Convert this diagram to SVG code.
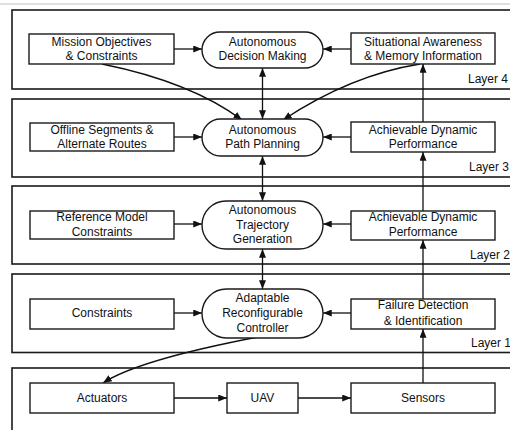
<svg xmlns="http://www.w3.org/2000/svg" width="510" height="430" viewBox="0 0 510 430">
  <style>
    .frame { fill: none; stroke: #1a1a1a; stroke-width: 1.6; }
    .box { fill: #fff; stroke: #1a1a1a; stroke-width: 1.4; }
    .pill { fill: #fff; stroke: #1a1a1a; stroke-width: 1.4; }
    .lbl { font-family: "Liberation Sans", Arial, sans-serif; font-size: 12px; fill: #111; text-anchor: middle; }
    .layer { font-family: "Liberation Sans", Arial, sans-serif; font-size: 12px; fill: #111; }
    .wire { fill: none; stroke: #111; stroke-width: 1.3; }
  </style>
  <defs>
    <marker id="arr" viewBox="0 0 10 8" refX="10" refY="4" markerWidth="9" markerHeight="7" markerUnits="userSpaceOnUse" orient="auto-start-reverse">
      <path d="M0,0 L10,4 L0,8 z" fill="#111"/>
    </marker>
  </defs>

  <rect width="510" height="430" fill="#fff"/>
  <line x1="0" y1="4" x2="510" y2="4" stroke="#bdbdbd" stroke-width="1"/>

  <!-- layer frames (open to the right edge) -->
  <g id="frames">
    <rect class="frame" x="12" y="10" width="520" height="79"/>
    <rect class="frame" x="12" y="99" width="520" height="78"/>
    <rect class="frame" x="12" y="186" width="520" height="78"/>
    <rect class="frame" x="12" y="274" width="520" height="78.5"/>
    <rect class="frame" x="12" y="368" width="520" height="80"/>
    <text class="layer" x="468" y="83">Layer 4</text>
    <text class="layer" x="469" y="171">Layer 3</text>
    <text class="layer" x="470" y="259">Layer 2</text>
    <text class="layer" x="471" y="347">Layer 1</text>
  </g>

  <!-- connectors -->
  <g id="connectors">
    <!-- layer 4 -->
    <line class="wire" x1="174" y1="49" x2="202" y2="49" marker-end="url(#arr)"/>
    <line class="wire" x1="351" y1="49" x2="323" y2="49" marker-end="url(#arr)"/>
    <line class="wire" x1="262.5" y1="68" x2="262.5" y2="119" marker-start="url(#arr)" marker-end="url(#arr)"/>
    <path class="wire" d="M102,64 Q191,82 242,120" marker-end="url(#arr)"/>
    <path class="wire" d="M420,64 Q351,75 283,120" marker-end="url(#arr)"/>
    <line class="wire" x1="423" y1="122" x2="423" y2="64" marker-end="url(#arr)"/>
    <!-- layer 3 -->
    <line class="wire" x1="174" y1="137" x2="202" y2="137" marker-end="url(#arr)"/>
    <line class="wire" x1="351" y1="137" x2="323" y2="137" marker-end="url(#arr)"/>
    <line class="wire" x1="262.5" y1="156" x2="262.5" y2="201" marker-start="url(#arr)" marker-end="url(#arr)"/>
    <line class="wire" x1="423" y1="211" x2="423" y2="152" marker-end="url(#arr)"/>
    <!-- layer 2 -->
    <line class="wire" x1="174" y1="224" x2="202" y2="224" marker-end="url(#arr)"/>
    <line class="wire" x1="351" y1="224" x2="323" y2="224" marker-end="url(#arr)"/>
    <line class="wire" x1="262.5" y1="249" x2="262.5" y2="289" marker-start="url(#arr)" marker-end="url(#arr)"/>
    <line class="wire" x1="423" y1="299" x2="423" y2="240" marker-end="url(#arr)"/>
    <!-- layer 1 -->
    <line class="wire" x1="174" y1="313" x2="202" y2="313" marker-end="url(#arr)"/>
    <line class="wire" x1="351" y1="313" x2="323" y2="313" marker-end="url(#arr)"/>
    <path class="wire" d="M258,337 Q138,360 103,383" marker-end="url(#arr)"/>
    <!-- plant loop -->
    <line class="wire" x1="174" y1="398" x2="227" y2="398" marker-end="url(#arr)"/>
    <line class="wire" x1="298" y1="398" x2="351" y2="398" marker-end="url(#arr)"/>
    <line class="wire" x1="423" y1="383" x2="423" y2="329" marker-end="url(#arr)"/>
  </g>

  <!-- Layer 4 -->
  <g id="mission">
    <rect class="box" x="29" y="34" width="145" height="30"/>
    <text class="lbl" x="101.5" y="46">Mission Objectives</text>
    <text class="lbl" x="101.5" y="60">&amp; Constraints</text>
  </g>
  <g id="decision">
    <rect class="pill" x="202" y="32" width="121" height="36" rx="18"/>
    <text class="lbl" x="262.5" y="46">Autonomous</text>
    <text class="lbl" x="262.5" y="60">Decision Making</text>
  </g>
  <g id="awareness">
    <rect class="box" x="351" y="33" width="144" height="31"/>
    <text class="lbl" x="423" y="46">Situational Awareness</text>
    <text class="lbl" x="423" y="60">&amp; Memory Information</text>
  </g>

  <!-- Layer 3 -->
  <g id="offline">
    <rect class="box" x="30" y="123" width="144" height="28"/>
    <text class="lbl" x="102" y="134">Offline Segments &amp;</text>
    <text class="lbl" x="102" y="148">Alternate Routes</text>
  </g>
  <g id="pathplanning">
    <rect class="pill" x="202" y="119" width="121" height="37" rx="18.5"/>
    <text class="lbl" x="262.5" y="134">Autonomous</text>
    <text class="lbl" x="262.5" y="148">Path Planning</text>
  </g>
  <g id="perf3">
    <rect class="box" x="351" y="122" width="144" height="30"/>
    <text class="lbl" x="423" y="134">Achievable Dynamic</text>
    <text class="lbl" x="423" y="148">Performance</text>
  </g>

  <!-- Layer 2 -->
  <g id="refmodel">
    <rect class="box" x="30" y="211" width="144" height="28"/>
    <text class="lbl" x="102" y="221">Reference Model</text>
    <text class="lbl" x="102" y="236">Constraints</text>
  </g>
  <g id="trajectory">
    <rect class="pill" x="202" y="201" width="121" height="48" rx="24"/>
    <text class="lbl" x="262.5" y="214">Autonomous</text>
    <text class="lbl" x="262.5" y="228.5">Trajectory</text>
    <text class="lbl" x="262.5" y="243">Generation</text>
  </g>
  <g id="perf2">
    <rect class="box" x="351" y="211" width="144" height="29"/>
    <text class="lbl" x="423" y="221">Achievable Dynamic</text>
    <text class="lbl" x="423" y="236">Performance</text>
  </g>

  <!-- Layer 1 -->
  <g id="constraints">
    <rect class="box" x="30" y="299" width="144" height="30"/>
    <text class="lbl" x="102" y="317">Constraints</text>
  </g>
  <g id="controller">
    <rect class="pill" x="202" y="289" width="121" height="49" rx="24.5"/>
    <text class="lbl" x="262.5" y="302">Adaptable</text>
    <text class="lbl" x="262.5" y="317">Reconfigurable</text>
    <text class="lbl" x="262.5" y="332">Controller</text>
  </g>
  <g id="failure">
    <rect class="box" x="351" y="299" width="144" height="30"/>
    <text class="lbl" x="423" y="309">Failure Detection</text>
    <text class="lbl" x="423" y="325">&amp; Identification</text>
  </g>

  <!-- Plant -->
  <g id="actuators">
    <rect class="box" x="30" y="383" width="144" height="30"/>
    <text class="lbl" x="102" y="402">Actuators</text>
  </g>
  <g id="uav">
    <rect class="box" x="227" y="383" width="71" height="30"/>
    <text class="lbl" x="262.5" y="402">UAV</text>
  </g>
  <g id="sensors">
    <rect class="box" x="351" y="383" width="144" height="30"/>
    <text class="lbl" x="423" y="402">Sensors</text>
  </g>
</svg>
